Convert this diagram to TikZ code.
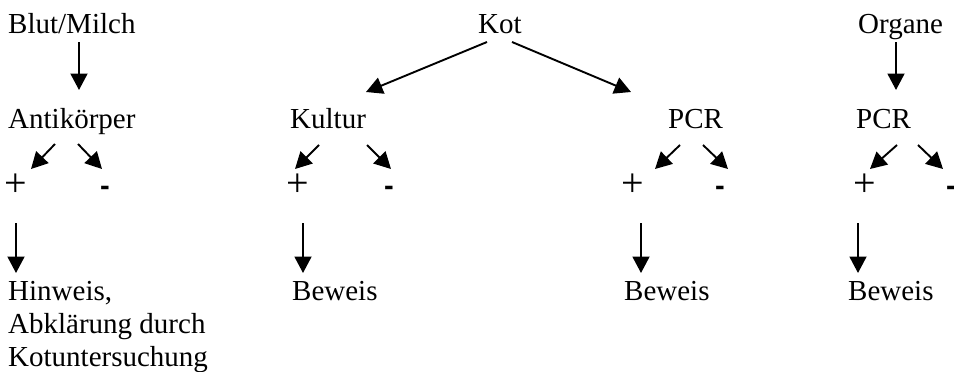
\documentclass[tikz,border=0pt]{standalone}
\usepackage{fontspec}
\setmainfont{Liberation Serif}
\newfontfamily\signfont{Liberation Sans}
\usetikzlibrary{arrows.meta}
\tikzset{
  lbl/.style={anchor=base west, inner sep=0pt, font=\fontsize{29}{33}\selectfont},
  sgn/.style={anchor=center, inner sep=0pt, font=\fontsize{40}{44}\selectfont},
  neg/.style={anchor=base, inner sep=0pt, font=\signfont\bfseries\fontsize{29}{33}\selectfont},
  arr/.style={line width=1.9pt, -{Triangle[length=16.5pt,width=17pt]}},
}
\begin{document}
\begin{tikzpicture}[x=1pt,y=-1pt]
\useasboundingbox (0,0) rectangle (954,372);

% top row
\node[lbl] (blut) at (8,34) {Blut/Milch};
\node[lbl] (kot) at (478,34) {Kot};
\node[lbl] (organe) at (858,34) {Organe};

% second row
\node[lbl] (anti) at (8,128) {Antikörper};
\node[lbl] (kultur) at (290,128) {Kultur};
\node[lbl] (pcra) at (668,128) {PCR};
\node[lbl] (pcrb) at (856,128) {PCR};

% results
\node[sgn] (p1) at (15.5,185) {+};
\node[neg] (m1) at (105,195) {-};
\node[sgn] (p2) at (298,185) {+};
\node[neg] (m2) at (389,195) {-};
\node[sgn] (p3) at (633,185) {+};
\node[neg] (m3) at (720,195) {-};
\node[sgn] (p4) at (865,185) {+};
\node[neg] (m4) at (951,195) {-};

% conclusions
\node[lbl, align=left, anchor=north west] (hinweis) at (8,281) {Hinweis,\\Abklärung durch\\Kotuntersuchung};
\node[lbl] (bew2) at (292,300) {Beweis};
\node[lbl] (bew3) at (624,300) {Beweis};
\node[lbl] (bew4) at (848,300) {Beweis};

% connector end points
\coordinate (blutS) at (79,42);   \coordinate (antiN) at (79,90);
\coordinate (orgS) at (896,42);   \coordinate (pcrbN) at (896,90);
\coordinate (kotL) at (487,42);   \coordinate (kulN) at (366,92);
\coordinate (kotR) at (512,42);   \coordinate (pcraN) at (631,92);

\coordinate (a1l) at (55,144);  \coordinate (p1N) at (31,169);
\coordinate (a1r) at (78,144);  \coordinate (m1N) at (102,169);
\coordinate (a2l) at (319,145); \coordinate (p2N) at (295,169);
\coordinate (a2r) at (367,145); \coordinate (m2N) at (391,169);
\coordinate (a3l) at (680,145); \coordinate (p3N) at (655,169);
\coordinate (a3r) at (703,145); \coordinate (m3N) at (728,169);
\coordinate (a4l) at (897,145); \coordinate (p4N) at (870,169);
\coordinate (a4r) at (918,145); \coordinate (m4N) at (943,169);

\coordinate (p1S) at (16,223);  \coordinate (hinN) at (16,273);
\coordinate (p2S) at (303,223); \coordinate (b2N) at (303,273);
\coordinate (p3S) at (641,223); \coordinate (b3N) at (641,273);
\coordinate (p4S) at (858,223); \coordinate (b4N) at (858,273);

% connectors
\draw[arr] (blutS) -- (antiN);
\draw[arr] (orgS) -- (pcrbN);
\draw[arr] (kotL) -- (kulN);
\draw[arr] (kotR) -- (pcraN);
\foreach \s/\t in {a1l/p1N,a1r/m1N,a2l/p2N,a2r/m2N,a3l/p3N,a3r/m3N,a4l/p4N,a4r/m4N,p1S/hinN,p2S/b2N,p3S/b3N,p4S/b4N}
  \draw[arr] (\s) -- (\t);
\end{tikzpicture}
\end{document}
